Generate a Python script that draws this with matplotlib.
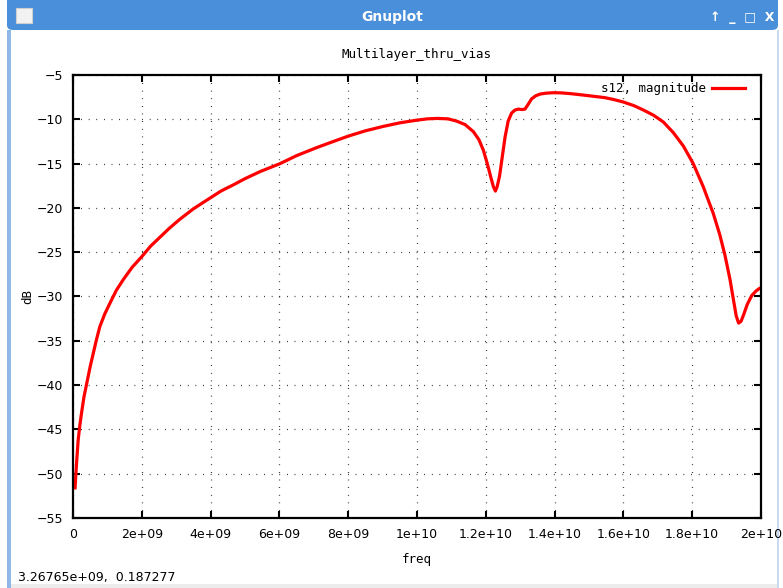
import numpy as np
import matplotlib.pyplot as plt
from matplotlib.patches import FancyBboxPatch, Rectangle

# s12 magnitude (freq in GHz, dB)
freq_ghz = [0.06, 0.10, 0.15, 0.20, 0.25, 0.32, 0.40, 0.50, 0.59, 0.68,
            0.78, 0.92, 1.08, 1.26, 1.46, 1.72, 2.0, 2.26, 2.53, 2.8,
            3.1, 3.5, 3.98, 4.3, 4.66, 5.0, 5.44, 6.02, 6.5, 7.08,
            7.5, 8.0, 8.5, 9.02, 9.5, 9.99, 10.3, 10.6, 10.9, 11.15,
            11.4, 11.64, 11.8, 11.93, 12.05, 12.15, 12.22, 12.28, 12.33, 12.4,
            12.48, 12.56, 12.65, 12.75, 12.85, 12.95, 13.05, 13.14, 13.25, 13.33,
            13.45, 13.58, 13.75, 13.96, 14.2, 14.45, 14.8, 15.13, 15.45, 15.7,
            16.0, 16.3, 16.58, 16.88, 17.16, 17.45, 17.74, 18.03, 18.32, 18.61,
            18.8, 18.95, 19.1, 19.2, 19.28, 19.35, 19.42, 19.5, 19.6, 19.73,
            19.85, 19.95, 20.0]
mag_db = [-51.6, -49.0, -46.2, -44.5, -43.1, -41.3, -39.8, -37.9, -36.4, -34.9,
          -33.4, -32.0, -30.7, -29.3, -28.1, -26.7, -25.5, -24.3, -23.3, -22.3,
          -21.3, -20.1, -18.9, -18.1, -17.4, -16.7, -15.9, -15.0, -14.1, -13.2,
          -12.6, -11.9, -11.3, -10.8, -10.4, -10.1, -9.95, -9.9, -9.95, -10.2,
          -10.6, -11.4, -12.3, -13.5, -15.1, -16.6, -17.6, -18.1, -17.6, -16.4,
          -14.2, -12.0, -10.2, -9.3, -8.95, -8.85, -8.9, -8.85, -8.2, -7.7,
          -7.35, -7.15, -7.05, -7.0, -7.02, -7.1, -7.25, -7.4, -7.55, -7.75,
          -8.05, -8.45, -8.95, -9.55, -10.3, -11.5, -13.0, -15.0, -17.6, -20.6,
          -23.0, -25.3, -28.1, -30.4, -32.2, -33.0, -32.8, -32.0, -30.9, -29.9,
          -29.4, -29.1, -29.0]

xticks = [0, 2e9, 4e9, 6e9, 8e9, 1e10, 1.2e10, 1.4e10, 1.6e10, 1.8e10, 2e10]
xlabels = ["0", "2e+09", "4e+09", "6e+09", "8e+09", "1e+10",
           "1.2e+10", "1.4e+10", "1.6e+10", "1.8e+10", "2e+10"]
yticks = list(range(-55, -4, 5))

freq = np.array(freq_ghz) * 1e9

fig = plt.figure(figsize=(7.83, 5.88), dpi=100)
W, H = 783, 588

# window frame
fig.patches.append(Rectangle((0, 0), 1, 1, transform=fig.transFigure,
                             facecolor="white", edgecolor="none", zorder=-10))
fig.patches.append(FancyBboxPatch((7 / W, 1 - 30 / H), 771 / W, 40 / H,
                                  boxstyle="round,pad=0,rounding_size=0.008",
                                  transform=fig.transFigure, facecolor="#4a8fd9",
                                  edgecolor="none", zorder=-5))
fig.patches.append(Rectangle((7 / W, 0), 4 / W, 1 - 30 / H, transform=fig.transFigure,
                             facecolor="#8fb8e6", edgecolor="none", zorder=-5))
fig.patches.append(Rectangle((777 / W, 0), 2 / W, 1 - 30 / H, transform=fig.transFigure,
                             facecolor="#c9dcef", edgecolor="none", zorder=-5))
fig.patches.append(Rectangle((11 / W, 0), 766 / W, 4 / H, transform=fig.transFigure,
                             facecolor="#ececec", edgecolor="none", zorder=-5))
fig.patches.append(Rectangle((16 / W, 1 - 23 / H), 16 / W, 15 / H, transform=fig.transFigure,
                             facecolor="#f2f2f2", edgecolor="#cfcfcf", lw=0.8, zorder=-4))
fig.text(392 / W, 1 - 17 / H, "Gnuplot", color="white", fontsize=10, fontweight="bold",
         ha="center", va="center")
fig.text(742 / W, 1 - 17 / H, "\u2191  _  \u25a1  X", color="white", fontsize=9,
         fontweight="bold", ha="center", va="center")

ax = fig.add_axes([73 / W, 1 - 518 / H, 688 / W, 443 / H])
ax.plot(freq, mag_db, color="#ff0000", lw=2.3, label="s12, magnitude")

ax.set_xlim(0, 2e10)
ax.set_ylim(-55, -5)
ax.set_xticks(xticks)
ax.set_xticklabels(xlabels)
ax.set_yticks(yticks)
ax.grid(True, color="black", linestyle=(0, (0.6, 5.5)), lw=0.9)
ax.tick_params(direction="in", length=5, width=1.5, top=True, right=True,
               labelsize=9, pad=7)
for s in ax.spines.values():
    s.set_linewidth(1.6)

mono = "DejaVu Sans Mono"
ax.set_title("Multilayer_thru_vias", fontsize=9, family=mono, pad=12)
ax.set_xlabel("freq", fontsize=9, family=mono, labelpad=9)
ax.set_ylabel("dB", fontsize=9, family=mono, labelpad=2)
ax.legend(loc="upper right", bbox_to_anchor=(0.984, 0.995), frameon=False,
          prop={"family": mono, "size": 9}, handlelength=2.6,
          handletextpad=0.55, borderaxespad=0, markerfirst=False)

fig.text(18 / W, 1 - 577 / H, "3.26765e+09,  0.187277", fontsize=9,
         ha="left", va="center")

fig.savefig("out.png", dpi=100)
